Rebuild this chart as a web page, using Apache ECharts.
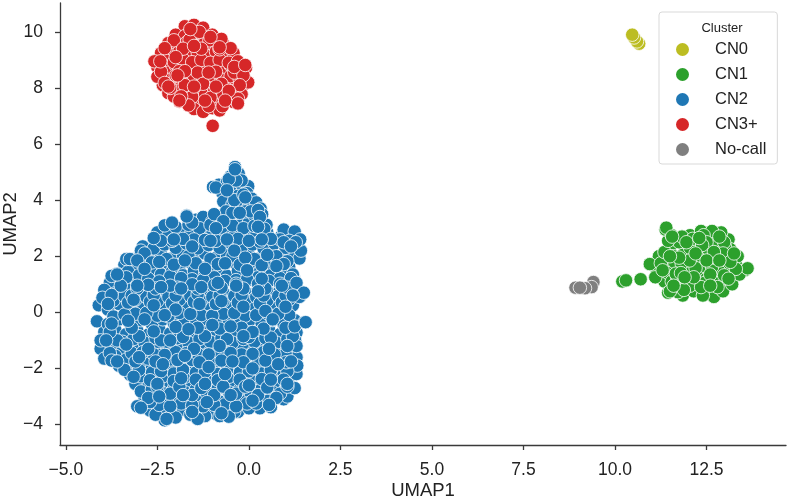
<!DOCTYPE html>
<html><head><meta charset="utf-8">
<script src="https://cdn.jsdelivr.net/npm/echarts@6/dist/echarts.min.js"></script>
<style>html,body{margin:0;padding:0;background:#fff}#c{width:790px;height:498px}</style>
</head><body><div id="c"></div>
<script>
const xTicks = [-5, -2.5, 0, 2.5, 5, 7.5, 10, 12.5];
const yTicks = [-4, -2, 0, 2, 4, 6, 8, 10];
const clusters = ['CN0', 'CN1', 'CN2', 'CN3+', 'No-call'];
const cn0 = [[10.66,9.58],[10.6,9.66],[10.52,9.8],[10.47,9.9]];
const noCall = [[8.92,.88],[9.41,1.08],[9.36,.9],[9.18,.86],[9.04,.88]];
const cn1 = [
[12.3,1.4],[11.2,2],[13,2],[11.7,.8],[12.6,2.6],[11.9,1.7],[13.3,1.7],[12.2,1.1],[11.5,2.3],[12.9,1.1],
[12,2.3],[11.15,1.45],[13.1,2.6],[12.5,.75],[11.35,1.1],[12.75,1.75],[11.6,1.55],[13.2,1.25],[12.35,2.05],[11.85,.6],
[13.15,2.25],[10.95,1.72],[12.05,2.75],[11.4,1.85],[12.7,.55],[12.55,2.25],[11.85,2.05],[12.1,1.45],[13.55,1.5],[12.9,2.85],
[11.45,1.4],[12.35,2.9],[11.25,1.75],[12.15,.75],[13.05,1.55],[11.75,2.5],[12.5,1.2],[11.55,1.1],[12.8,2.4],[11.7,1.25],
[13.35,2],[12.25,1.85],[11.1,1.25],[12.95,.75],[11.95,1.1],[12.65,2.9],[12.85,1.45],[11.35,2.15],[12.45,1.65],[11.45,.7],
[13.2,1],[11.6,2],[12.05,.95],[12.75,1.05],[12.2,2.55],[13.4,1.35],[11.45,2.55],[11.38,2.95],[11.55,2.75],[12.4,.6],
[13,2.35],[10.25,1.12],[10.2,1.1],[10.7,1.18],[10.3,1.14],[13.62,1.57],
[12.42,2.75],[11.83,2.7],[11.4,3.02],[11.56,2.7],[12.5,2.5],[12.98,2.5],[12.05,2.3],[11.62,1.8],[11.82,1.75],[13.05,1.98],
[12.65,1.62],[12.2,1.58],[12.45,1.05],[12.72,1.95],[13.3,1.55],[12.8,.9],[11.72,.72],[11.88,.8],[11.5,.75],[12.95,2.1],
[12.12,2.62],[12.38,2.4],[12.04,1.85],[11.66,1.38],[12.98,1.32],
[12.6,1.35],[11.8,1.4],[12.2,2.1],[12.85,2.7],[11.3,1.5],[13.15,1.8],[12.35,.9],[11.95,2.5],[11.6,.95],[12.6,.95],
[13.1,1.2],[11.75,1.95],[12.15,1.25],[12.7,2.15],[11.5,2],[13.25,2.1],[12.5,1.85],[11.9,1.25],[12.85,1.85],[12.3,2.65]
];
const cn2Base = [
[-4.1,.25],[-3.85,.1],[-3.55,.3],[-3.25,.15],[-2.95,.3],[-2.65,.1],[-2.35,.28],[-2.05,.12],[-1.75,.3],[-1.45,.15],[-1.15,.3],[-.85,.1],[-.55,.28],[-.25,.15],[.05,.3],[.35,.12],[.65,.28],[.95,.15],[1.2,.25],
[-3,2],[-2.7,1.9],[-2.4,2.08],[-2.1,1.92],[-1.8,2.05],[-1.5,1.9],[-1.2,2.1],[-.9,1.95],[-.6,2.05],[-.3,1.88],[0,2.05],[.3,1.92],[.6,2.08],[.9,1.9],[1.2,2.05],[1.38,1.92],
[-3.55,-1.9],[-3.25,-1.98],[-2.95,-1.85],[-2.65,-2],[-2.35,-1.85],[-2.05,-2],[-1.75,-1.88],[-1.45,-2],[-1.15,-1.85],[-.85,-2.02],[-.55,-1.88],[-.25,-1.98],[.05,-1.85],[.35,-2],[.65,-1.85],[.95,-1.98],[1.2,-1.9],
[-3.8,1.05],[-3.5,1.18],[-3.2,1.02],[-2.9,1.15],[-2.6,1],[-2.3,1.2],[-2,1.05],[-1.7,1.15],[-1.4,1],[-1.1,1.18],[-.8,1.05],[-.5,1.2],[-.2,1],[.1,1.15],[.4,1.02],[.7,1.18],[1,1.05],[1.25,1.15],
[-2.85,-3.1],[-2.55,-3.2],[-2.25,-3.02],[-1.95,-3.15],[-1.65,-3],[-1.35,-3.18],[-1.05,-3.05],[-.75,-3.2],[-.45,-3],[-.15,-3.15],[.15,-3.02],[.45,-3.18],[.75,-3.05],[.95,-3.1],
[-3.95,-.7],[-3.65,-.62],[-3.35,-.78],[-3.05,-.65],[-2.75,-.8],[-2.45,-.6],[-2.15,-.75],[-1.85,-.62],[-1.55,-.8],[-1.25,-.65],[-.95,-.78],[-.65,-.6],[-.35,-.75],[-.05,-.65],[.25,-.8],[.55,-.62],[.85,-.78],[1.15,-.65],[1.3,-.72],
[-2.5,2.85],[-2.2,2.72],[-1.9,2.9],[-1.6,2.75],[-1.3,2.92],[-1,2.78],[-.7,2.88],[-.4,2.72],[-.1,2.9],[.2,2.75],[.5,2.85],[.9,2.75],[1.2,2.72],[1.38,2.6],
[-4.05,-1.3],[-3.75,-1.2],[-3.45,-1.38],[-3.15,-1.22],[-2.85,-1.35],[-2.55,-1.2],[-2.25,-1.38],[-1.95,-1.25],[-1.65,-1.35],[-1.35,-1.2],[-1.05,-1.38],[-.75,-1.22],[-.45,-1.36],[-.15,-1.2],[.15,-1.35],[.45,-1.25],[.75,-1.38],[1.05,-1.22],[1.22,-1.3],
[-2.8,-2.5],[-3.1,-2.55],[-2.5,-2.42],[-2.2,-2.58],[-1.9,-2.42],[-1.6,-2.55],[-1.3,-2.45],[-1,-2.6],[-.7,-2.42],[-.4,-2.55],[-.1,-2.45],[.2,-2.6],[.5,-2.45],[.8,-2.55],[1.1,-2.45],
[-3.95,.8],[-3.65,.68],[-3.35,.85],[-3.05,.7],[-2.75,.82],[-2.45,.65],[-2.15,.8],[-1.85,.68],[-1.55,.85],[-1.25,.7],[-.95,.82],[-.65,.65],[-.35,.8],[-.05,.68],[.25,.85],[.55,.7],[.85,.82],[1.15,.68],[1.45,.72],
[-1.7,3.45],[-1.45,3.3],[-1.25,3.4],[-1,3.25],[-.8,3.4],[-.55,3.25],[-.25,3.32],[0,3.2],[.25,3.25],[.48,3.12],
[-3.4,1.7],[-3.1,1.62],[-2.8,1.78],[-2.5,1.6],[-2.2,1.75],[-1.9,1.62],[-1.6,1.78],[-1.3,1.6],[-1,1.75],[-.7,1.62],[-.4,1.78],[-.1,1.6],[.2,1.75],[.5,1.62],[.8,1.78],[1.1,1.62],
[-4.15,-.32],[-3.85,-.42],[-3.55,-.25],[-3.25,-.4],[-2.95,-.28],[-2.65,-.42],[-2.35,-.25],[-2.05,-.4],[-1.75,-.3],[-1.45,-.42],[-1.15,-.25],[-.85,-.38],[-.55,-.28],[-.25,-.42],[.05,-.25],[.35,-.4],[.65,-.28],[.95,-.42],[1.25,-.28],[1.52,-.35],
[-2.8,-3.42],[-2.4,-3.55],[-2.1,-3.65],[-1.8,-3.48],[-1.5,-3.6],[-1.2,-3.45],[-.9,-3.62],[-.6,-3.45],[-.3,-3.55],[0,-3.38],[.3,-3.42],[.58,-3.32],
[-.82,4.55],[-.6,4.65],[-.42,4.5],[-.2,4.45],[-.02,4.5],[-.98,4.47],[-.72,4.25],[-.5,4.3],[-.3,4.15],[-.05,4.25],[.08,4.05],
[-.7,3.95],[-.45,3.85],[-.22,3.98],[0,3.8],[.2,3.92],[.32,3.7],[-.62,3.6],[-.35,3.55],[-.1,3.6],[.15,3.45],[.36,3.5],
[-.5,4.85],[-.28,4.95],[-.2,4.7],[-.38,5.18],
[-2.9,2.35],[-2.6,2.28],[-2.3,2.42],[-2,2.3],[-1.7,2.45],[-1.4,2.28],[-1.1,2.4],[-.8,2.3],[-.5,2.48],[-.2,2.32],[.1,2.42],[.4,2.28],[.7,2.45],[1,2.3],[1.3,2.4],[1.42,2.2],
[-3.95,-1.65],[-3.65,-1.55],[-3.35,-1.68],[-3.05,-1.55],[-2.75,-1.65],[-2.45,-1.52],[-2.15,-1.68],[-1.85,-1.55],[-1.55,-1.7],[-1.25,-1.55],[-.95,-1.68],[-.65,-1.52],[-.35,-1.65],[-.05,-1.55],[.25,-1.68],[.55,-1.55],[.85,-1.65],[1.18,-1.55],
[-3.6,1.38],[-3.3,1.45],[-3,1.32],[-2.7,1.48],[-2.4,1.35],[-2.1,1.45],[-1.8,1.32],[-1.5,1.48],[-1.2,1.35],[-.9,1.45],[-.6,1.3],[-.3,1.48],[0,1.35],[.3,1.45],[.6,1.32],[.9,1.48],[1.2,1.35],
[-3.25,-2.22],[-2.95,-2.28],[-2.65,-2.15],[-2.35,-2.28],[-2.05,-2.18],[-1.75,-2.3],[-1.45,-2.15],[-1.15,-2.3],[-.85,-2.2],[-.55,-2.3],[-.25,-2.15],[.05,-2.28],[.35,-2.18],[.65,-2.3],[.95,-2.18],[1.15,-2.25],
[-4,.52],[-3.7,.42],[-3.4,.58],[-3.1,.45],[-2.8,.55],[-2.5,.4],[-2.2,.55],[-1.9,.45],[-1.6,.58],[-1.3,.42],[-1,.55],[-.7,.4],[-.4,.58],[-.1,.45],[.2,.55],[.5,.42],[.8,.58],[1.1,.45],[1.38,.55],
[-2.95,-2.82],[-2.65,-2.75],[-2.35,-2.88],[-2.05,-2.72],[-1.75,-2.85],[-1.45,-2.75],[-1.15,-2.88],[-.85,-2.72],[-.55,-2.85],[-.25,-2.75],[.05,-2.88],[.35,-2.72],[.65,-2.85],[1,-2.75],
[-4.05,-1],[-3.75,-.92],[-3.45,-1.05],[-3.15,-.95],[-2.85,-1.08],[-2.55,-.92],[-2.25,-1.05],[-1.95,-.92],[-1.65,-1.08],[-1.35,-.95],[-1.05,-1.05],[-.75,-.92],[-.45,-1.08],[-.15,-.95],[.15,-1.05],[.45,-.92],[.75,-1.08],[1.05,-.95],[1.26,-1],
[-2.3,3.1],[-2,3.05],[-1.65,3.12],[-1.35,3],[-1.05,3.12],[-.75,3.02],[-.45,3.1],[-.15,3],[.15,3.08],[.42,2.98],[.95,2.95],[1.25,2.88],[1.4,2.6],
[-3.05,-3.35],[-2.7,-3.5],[-2.3,-3.85],[-2,-3.75],[-1.6,-3.65],[-1.2,-3.7],[-.8,-3.7],[-.4,-3.55],[0,-3.42],[.6,-3.38],[-2.55,-3.65],[-1.4,-3.8],[-.55,-3.72],[1.05,-3],
[1.3,-2.2],[1.25,-2.7],[1.3,-1.6],[1.3,-1.2],[1.32,-1.9],[-3.35,1.9],[-2.95,2.2],[-3.75,1.3]
];
const cn2Fill = [
[-3.7,-.15],[-3.1,-.05],[-2.5,-.12],[-1.9,-.02],[-1.3,-.1],[-.7,-.05],[-.1,-.12],[.5,-.03],[1.1,-.1],[-3.4,-.08],[-2.8,-.02],[-2.2,-.14],[-1.6,-.06],[-1,-.12],[-.4,-.02],[.2,-.1],[.8,-.05],
[-2.75,1.2],[-2.15,1.28],[-1.55,1.18],[-.95,1.25],[-.35,1.15],[.25,1.25],[.85,1.22],[-3.35,1.25],[-2.45,1.1],[-1.85,1.22],[-1.25,1.15],[-.65,1.12],[-.05,1.18],[.55,1.12],[1.15,1.22],
[-3.2,-1.45],[-2.6,-1.5],[-2,-1.42],[-1.4,-1.48],[-.8,-1.42],[-.2,-1.5],[.4,-1.42],[1,-1.48],[-3.8,-1.45],[-2.9,-1.42],[-2.3,-1.52],[-1.7,-1.45],[-1.1,-1.5],[-.5,-1.45],[.1,-1.48],[.7,-1.5],
[-2.45,-3.3],[-1.85,-3.25],[-1.25,-3.35],[-.65,-3.28],[-.05,-3.25],[.5,-3.15],[-2.15,-3.35],[-1.55,-3.32],[-.95,-3.3],[-.35,-3.35],[.2,-3.25],[-2.7,-3.2],
[-2.1,2.55],[-1.5,2.6],[-.9,2.55],[-.3,2.62],[.3,2.52],[.85,2.6],[-2.4,2.55],[-1.8,2.62],[-1.2,2.58],[-.6,2.6],[0,2.55],[.6,2.62],[1.1,2.55],
[-3.3,.35],[-2.7,.38],[-2.1,.32],[-1.5,.38],[-.9,.3],[-.3,.35],[.3,.32],[.9,.35],[-3.75,.62],[-3.2,.6],[-2.6,.62],[-2,.6],[-1.4,.65],[-.8,.6],[-.2,.62],[.4,.6],[1,.6],
[-3,-2.05],[-2.4,-2.1],[-1.8,-2.05],[-1.2,-2.12],[-.6,-2.05],[0,-2.1],[.6,-2.05],[1.05,-2.1],[-3.4,-2.05],[-2.7,-2.42],[-2.05,-2.45],[-1.45,-2.4],[-.85,-2.42],[-.25,-2.4],[.35,-2.38],[.95,-2.4],
[-3.6,-1],[-3,-.85],[-2.4,-1],[-1.8,-.88],[-1.2,-.85],[-.6,-.95],[0,-.88],[.6,-.9],[1.2,-.85],[-3.8,-.7],[-3.2,-.55],[-2.6,-.68],[-2,-.52],[-1.4,-.55],[-.8,-.58],[-.2,-.55],[.4,-.58],[1,-.55],
[-3.25,1.9],[-2.85,2.1],[-2.25,1.9],[-1.65,2],[-1.05,1.9],[-.45,2],[.15,1.9],[.75,2],[1.05,1.82],[-2.65,1.78],[-2.05,1.7],[-1.45,1.75],[-.85,1.72],[-.25,1.7],[.35,1.68],[.95,1.72],
[-2.1,3.2],[-1.55,3.2],[-.95,3.5],[-.45,3.55],[.05,3.6],[.25,3.65],[-.4,4],[-.15,4.2],[-.6,4.45],[-.35,4.7],[-.7,3.25],[.3,3.4],
[-2.75,-3.05],[-2.15,-2.9],[-1.55,-2.95],[-.95,-2.95],[-.35,-2.9],[.25,-2.95],[.85,-2.9],[-2.5,-2.65],[-1.9,-2.65],[-1.3,-2.7],[-.7,-2.65],[-.1,-2.65],[.5,-2.68],[1.05,-2.65],
[-3.05,.85],[-2.55,.85],[-1.95,.88],[-1.4,.85],[-.75,.88],[-.15,.85],[.45,.85],[1.05,.88],[-3.5,.95],[-2.75,.98],[-2.15,.95],[-1.55,1],[-.95,.98],[-.35,1.02],[.25,1.02],[.85,1.02],
[-1.95,-1.7],[-1.35,-1.78],[-.75,-1.72],[-.15,-1.78],[.45,-1.72],[1.02,-1.78],[-3.1,-1.75],[-2.55,-1.75],[-3.75,-1.72]
];
const cn2Top = [
[-1.7,3.42],[-.9,4.45],[-.55,4.75],[-.38,5.1],[-.1,4.1],[-.6,4.35],[-.25,3.55],[-.9,3],[.25,3.05],
[-1.05,2.55],[-2.6,2.65],[-2.05,2.6],[-1.55,2.35],[-.4,2.2],[.35,2.6],[.95,2.5],[1.28,2.5],[1.15,2.35],
[-3.05,1.85],[-2.45,1.8],[-2.85,1.55],[-1.75,1.85],[-1.2,1.55],[-.65,1.75],[-.1,1.95],[.5,2.05],[.75,1.65],[-.05,1.5],[.35,1.2],
[-3.6,1.35],[-3.05,.95],[-2.4,.9],[-1.85,.85],[-1.3,.9],[-.85,1.05],[-.35,.95],[.25,.75],[.9,.95],[1.3,1.05],[1.5,.7],
[-3.85,.3],[-3.15,.45],[-2.6,.25],[-2,.1],[-1.35,.3],[-.75,.4],[-.15,.2],[.45,.05],[1,.2],[1.2,.6],
[-3.75,-.4],[-3.3,-.3],[-2.85,-.25],[-2.3,-.1],[-1.65,-.6],[-1,-.45],[-.5,-.5],[.1,-.7],[.65,-.25],[1.25,-.5],[1.55,-.35],
[-3.9,-1],[-3.35,-1.15],[-2.75,-1.3],[-2.15,-1],[-1.5,-1.3],[-.8,-1.2],[-.15,-.85],[.55,-1.3],[1.05,-1.2],
[-3.6,-1.75],[-3,-1.6],[-2.35,-1.85],[-1.75,-1.55],[-1.1,-1.95],[-.45,-1.75],[.1,-2],[.8,-1.85],[1.15,-1.75],
[-3.15,-2.3],[-2.5,-2.55],[-1.85,-2.35],[-1.2,-2.55],[-.65,-2.2],[0,-2.6],[.6,-2.4],[1.05,-2.55],
[-2.95,-3.4],[-2.45,-3],[-1.8,-2.95],[-1.15,-3.2],[-.5,-2.95],[.1,-3.15],[.75,-3.05],[-2.25,-3.8],[-1.55,-3.55],[-.75,-3.6],[.55,-3.3]
];
const cn3 = [
[-2.5,8.75],[-2.25,8.6],[-2,8.8],[-1.75,8.65],[-1.5,8.82],[-1.25,8.6],[-1,8.78],[-.75,8.62],[-.5,8.8],[-.25,8.65],[-.08,8.72],
[-1.75,10.2],[-1.5,10.25],[-1.25,10.15],[-2,9.9],[-1.75,9.85],[-1.5,9.95],[-1.25,9.82],[-1,9.9],
[-2.35,8.1],[-2.1,8.2],[-1.85,8.05],[-1.6,8.2],[-1.35,8.05],[-1.1,8.18],[-.85,8.02],[-.6,8.2],[-.35,8.05],[-.1,8.15],
[-2.2,9.6],[-1.95,9.5],[-1.7,9.62],[-1.45,9.5],[-1.2,9.62],[-.95,9.48],[-.7,9.58],
[-1.9,7.52],[-1.65,7.62],[-1.4,7.45],[-1.15,7.6],[-.9,7.45],[-.65,7.58],[-.42,7.5],
[-2.4,9.25],[-2.15,9.18],[-1.9,9.3],[-1.65,9.15],[-1.4,9.28],[-1.15,9.15],[-.9,9.3],[-.65,9.18],[-.42,9.25],
[-2.5,8.4],[-2.25,8.3],[-2,8.45],[-1.75,8.3],[-1.5,8.42],[-1.25,8.3],[-1,8.45],[-.75,8.3],[-.5,8.42],[-.25,8.3],[-.02,8.2],
[-2.2,7.82],[-1.95,7.9],[-1.7,7.78],[-1.45,7.9],[-1.2,7.75],[-.95,7.88],[-.7,7.75],[-.45,7.88],[-.2,7.78],
[-1.5,7.25],[-1.25,7.15],[-1,7.28],[-.8,7.2],
[-2.58,8.95],[-2.3,9],[-2.05,8.92],[-1.8,9.02],[-1.55,8.92],[-1.3,9],[-1.05,8.9],[-.8,9],[-.55,8.9],[-.3,8.95],
[-1.62,9.72],[-1.08,9.7],[-2.05,9.7],[-.75,9.75],[-2.3,9.42],[-1.8,9.4],[-1.3,9.4],[-.8,9.38],[-.5,9.42],[-2.4,8.58],[-1.9,8.6],[-1.4,8.55],[-.9,8.58],[-.4,8.55],[-.15,8.45],
[-2.3,8.18],[-1.75,8.1],[-1.25,8.15],[-.75,8.15],[-.25,8.1],[-2.05,7.7],[-1.55,7.68],[-1.05,7.65],[-.55,7.68],[-.3,7.62],[-1.65,7.38],[-1.1,7.35],[-.72,7.35],[-2.15,8],[-1.35,10],
/* top layer */
[-1.6,10.1],[-1.05,9.82],[-1.5,9.5],[-.8,9.45],[-2,9.1],[-2.42,8.95],[-1.75,8.6],[-1.1,8.55],[-.4,8.75],[-.1,8.82],[-1.95,8.45],
[-2.2,8.05],[-1.5,8.05],[-.9,8.05],[-.55,7.9],[-1.85,7.7],[-1.2,7.55],[-.3,7.45],[-.65,7.55],[-1.9,7.55],[-.99,6.65]
];
const cn2 = cn2Base.concat(cn2Fill, cn2Top);
const seriesData = [cn0, cn1, cn2, cn3, noCall];
const colors = ['#bcbd22', '#2ca02c', '#1f77b4', '#d62728', '#7f7f7f'];
const FONT = '"Liberation Sans", Arial, sans-serif';
const fmt = v => String(v).replace('-', '\u2212');
const axisCommon = {
  axisLine: {show: true, onZero: false, lineStyle: {color: '#3a3a3a', width: 1.3}},
  splitLine: {show: false}
};
const chart = echarts.init(document.getElementById('c'), null, {renderer: 'canvas'});
chart.setOption({
  animation: false,
  backgroundColor: '#fff',
  grid: {left: 60, right: 4, top: 3, bottom: 53, containLabel: false, outerBoundsMode: 'none'},
  title: {text: 'Cluster', left: 717, top: 17, textAlign: 'center',
    textStyle: {fontFamily: FONT, fontSize: 13, fontWeight: 'normal', color: '#222'}},
  legend: {
    orient: 'vertical', left: 659, top: 12,
    padding: [29, 11, 6, 17], itemWidth: 13, itemHeight: 13, itemGap: 8,
    icon: 'circle', backgroundColor: 'rgba(255,255,255,0.8)',
    borderColor: '#d9d9d9', borderWidth: 1, borderRadius: 3,
    itemStyle: {borderWidth: 0},
    textStyle: {fontFamily: FONT, fontSize: 16.5, color: '#222', padding: [0, 0, 0, 21]},
    data: clusters
  },
  xAxis: Object.assign({}, axisCommon, {
    type: 'value', min: -5.16, max: 14.67,
    name: 'UMAP1', nameLocation: 'middle', nameGap: 36, nameMoveOverlap: false,
    nameTextStyle: {fontFamily: FONT, fontSize: 18.5, color: '#222'},
    axisTick: {show: true, customValues: xTicks, length: 5, lineStyle: {color: '#3a3a3a', width: 1.3}},
    axisLabel: {customValues: xTicks, formatter: v => fmt(v.toFixed(1)), fontFamily: FONT, fontSize: 17.5, color: '#222', margin: 16}
  }),
  yAxis: Object.assign({}, axisCommon, {
    type: 'value', min: -4.73, max: 11.03,
    name: 'UMAP2', nameLocation: 'middle', nameGap: 40, nameMoveOverlap: false,
    nameTextStyle: {fontFamily: FONT, fontSize: 18.5, color: '#222'},
    axisTick: {show: true, customValues: yTicks, length: 5, lineStyle: {color: '#3a3a3a', width: 1.3}},
    axisLabel: {customValues: yTicks, formatter: v => fmt(v), fontFamily: FONT, fontSize: 17.5, color: '#222', margin: 17}
  }),
  series: clusters.map((name, i) => ({
    name, type: 'scatter', data: seriesData[i], symbolSize: 13.5, large: false, progressive: 0,
    itemStyle: {color: colors[i], borderColor: '#fff', borderWidth: 0.8, opacity: 1},
    emphasis: {disabled: true}
  }))
});
</script></body></html>
